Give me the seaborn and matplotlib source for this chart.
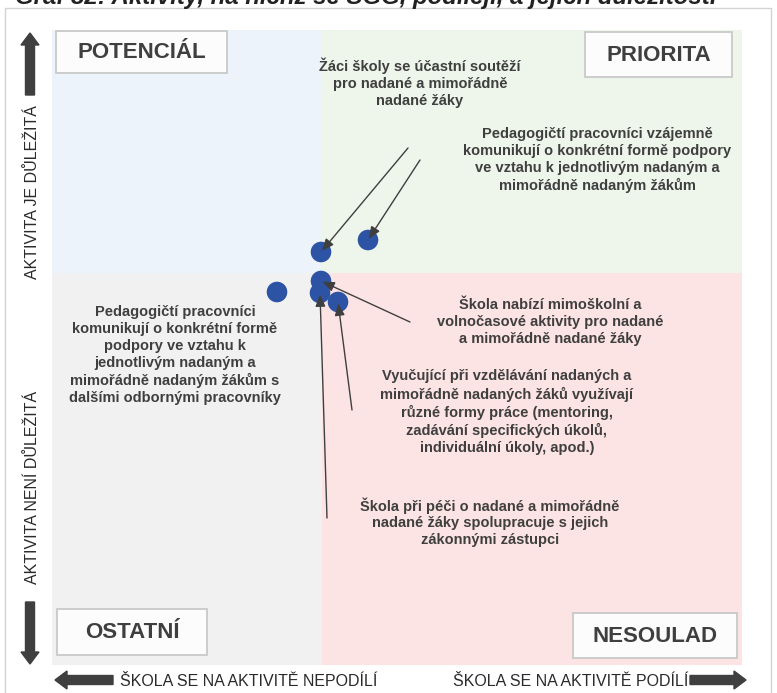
import matplotlib

matplotlib.use("Agg")
import matplotlib.pyplot as plt
import pandas as pd
import seaborn as sns
from matplotlib.patches import FancyArrow, Rectangle

sns.set_style("white")
plt.rcParams["font.family"] = ["Liberation Sans", "DejaVu Sans"]

W, H = 777, 693
DARK = "#3f3f3f"

title = "Graf 82: Aktivity, na nichž se ŠGG, podílejí, a jejich důležitost."

# position of each activity relative to the quadrant split
activities = [
    "Žáci školy se účastní soutěží\npro nadané a mimořádně\nnadané žáky",
    "Pedagogičtí pracovníci vzájemně\nkomunikují o konkrétní formě podpory\n"
    "ve vztahu k jednotlivým nadaným a\nmimořádně nadaným žákům",
    "Škola nabízí mimoškolní a\nvolnočasové aktivity pro nadané\na mimořádně nadané žáky",
    "Pedagogičtí pracovníci\nkomunikují o konkrétní formě\npodpory ve vztahu k\n"
    "jednotlivým nadaným a\nmimořádně nadaným žákům s\ndalšími odbornými pracovníky",
    "Škola při péči o nadané a mimořádně\nnadané žáky spolupracuje s jejich\nzákonnými zástupci",
    "Vyučující při vzdělávání nadaných a\nmimořádně nadaných žáků využívají\n"
    "různé formy práce (mentoring,\nzadávání specifických úkolů,\nindividuální úkoly, apod.)",
]
participation = [-0.1, 4.6, -0.1, -4.5, -0.2, 1.6]
importance = [2.1, 3.3, -0.8, -1.9, -2.0, -2.9]

quadrants = ["POTENCIÁL", "PRIORITA", "OSTATNÍ", "NESOULAD"]
x_labels = ["ŠKOLA SE NA AKTIVITĚ NEPODÍLÍ", "ŠKOLA SE NA AKTIVITĚ PODÍLÍ"]
y_labels = ["AKTIVITA JE DŮLEŽITÁ", "AKTIVITA NENÍ DŮLEŽITÁ"]

df = pd.DataFrame(
    {"activity": activities, "participation": participation, "importance": importance}
)

# layout in figure pixels (origin top-left)
label_pos = [(420, 83), (597, 160), (550, 322), (175, 355), (490, 522), (507, 412)]
arrow_start = [(408, 148), (420, 160), (410, 322), None, (327, 518), (352, 410)]
quad_boxes = [(56, 31, 227, 73), (585, 32, 732, 77), (57, 609, 207, 655), (573, 613, 737, 658)]
quad_fill = ["#edf3fb", "#eef6ec", "#f1f1f1", "#fde4e4"]

fig = plt.figure(figsize=(W / 100, H / 100), dpi=100)
bg = fig.add_axes([0, 0, 1, 1])
bg.set_xlim(0, W)
bg.set_ylim(H, 0)
bg.axis("off")

# outer frame; the title sits above the top edge and is cut like in the source
bg.add_patch(Rectangle((5, 8), 766, 690, fill=False, ec="#d3d3d3", lw=1))
bg.text(15, 4, title, fontsize=17.3, fontweight="bold", fontstyle="italic",
        color="#222222", va="baseline", ha="left")

left, right, top, bottom = 52, 742, 30, 665
ax = fig.add_axes([left / W, 1 - bottom / H, (right - left) / W, (bottom - top) / H])
xmin, xmax, ymin, ymax = -27, 42, -39.2, 24.3
ax.set_xlim(xmin, xmax)
ax.set_ylim(ymin, ymax)
ax.axis("off")

spans = [(xmin, 0, 0, ymax), (0, xmax, 0, ymax), (xmin, 0, ymin, 0), (0, xmax, ymin, 0)]
for (x0, x1, y0, y1), c in zip(spans, quad_fill):
    ax.add_patch(Rectangle((x0, y0), x1 - x0, y1 - y0, fc=c, ec="none", zorder=0))

sns.scatterplot(data=df, x="participation", y="importance", s=220, color="#2d54a4",
                edgecolor="none", legend=False, ax=ax, zorder=3)

for i, row in df.iterrows():
    tx, ty = label_pos[i]
    ax.text(tx, ty, row["activity"], transform=bg.transData, ha="center", va="center",
            fontsize=10.5, fontweight="bold", color=DARK, linespacing=1.25, zorder=5)
    if arrow_start[i] is not None:
        ax.annotate("", xy=(row["participation"], row["importance"]), xycoords="data",
                    xytext=arrow_start[i], textcoords=bg.transData,
                    arrowprops=dict(arrowstyle="-|>,head_length=0.6,head_width=0.25",
                                    color=DARK, lw=1, shrinkA=0, shrinkB=1,
                                    mutation_scale=12), zorder=4)

for (x0, y0, x1, y1), name in zip(quad_boxes, quadrants):
    ax.add_patch(Rectangle((x0, y0), x1 - x0, y1 - y0, transform=bg.transData,
                           fc="#fcfcfc", ec="#c9c9c9", lw=1.3, zorder=5, clip_on=False))
    ax.text((x0 + x1) / 2, (y0 + y1) / 2 + 1, name, transform=bg.transData,
            ha="center", va="center", fontsize=16, fontweight="bold", color=DARK,
            zorder=6)

# direction arrows and side labels
arrow_kw = dict(width=9, head_width=18, head_length=12, length_includes_head=True,
                fc=DARK, ec=DARK)
bg.add_patch(FancyArrow(30, 95, 0, -62, **arrow_kw))
bg.add_patch(FancyArrow(30, 602, 0, 62, **arrow_kw))
bg.add_patch(FancyArrow(113, 680, -58, 0, **arrow_kw))
bg.add_patch(FancyArrow(690, 680, 56, 0, **arrow_kw))

side_kw = dict(family="Liberation Sans", fontsize=11.5, color="#2a2a2a")
bg.text(120, 681, x_labels[0], ha="left", va="center", **side_kw)
bg.text(688, 681, x_labels[1], ha="right", va="center", **side_kw)
bg.text(33, 192, y_labels[0], rotation=90, ha="center", va="center", **side_kw)
bg.text(33, 487, y_labels[1], rotation=90, ha="center", va="center", **side_kw)

fig.savefig("out.png", dpi=100)
plt.close(fig)
